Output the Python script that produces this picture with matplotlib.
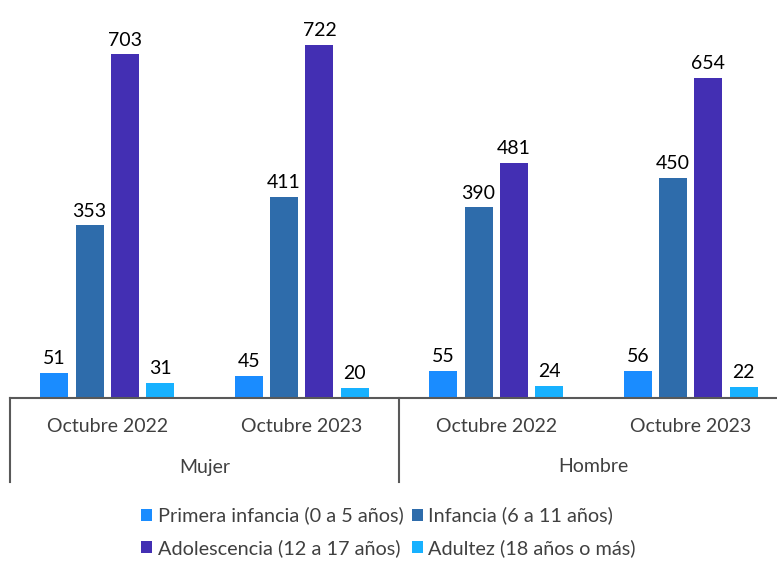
import matplotlib.pyplot as plt
import numpy as np

plt.rcParams["font.family"] = ["Lato", "DejaVu Sans"]

# data
periods = ["Octubre 2022", "Octubre 2023", "Octubre 2022", "Octubre 2023"]
sexes = ["Mujer", "Hombre"]
series_names = [
    "Primera infancia (0 a 5 años)",
    "Infancia (6 a 11 años)",
    "Adolescencia (12 a 17 años)",
    "Adultez (18 años o más)",
]
primera_infancia = [51, 45, 55, 56]
infancia = [353, 411, 390, 450]
adolescencia = [703, 722, 481, 654]
adultez = [31, 20, 24, 22]

colors = ["#1A8CFF", "#2E6CAB", "#432FB3", "#17B1FF"]

W, H = 777, 562
fig = plt.figure(figsize=(W / 100, H / 100), dpi=100)

ax_left = 10 / W
ax_bottom = 1 - 398 / H
ax_height = 391 / H
ax = fig.add_axes([ax_left, ax_bottom, 1 - ax_left, ax_height])

x = np.arange(len(periods))
spacing = 0.1815
width = 0.144
offsets = np.array([-1.5, -0.5, 0.5, 1.5]) * spacing

all_series = [primera_infancia, infancia, adolescencia, adultez]
handles = []
for vals, off, col, name in zip(all_series, offsets, colors, series_names):
    bars = ax.bar(x + off, vals, width, color=col, label=name, zorder=2)
    handles.append(bars)
    for xi, v in zip(x + off, vals):
        ax.text(xi, v + 12, str(v), ha="center", va="bottom",
                fontsize=14, color="#000000")

ax.set_ylim(0, 800)
ax.set_xlim(-0.5, 3.5 - 11 / 194.5)

for s in ["top", "right", "left"]:
    ax.spines[s].set_visible(False)
ax.spines["bottom"].set_color("#595959")
ax.spines["bottom"].set_linewidth(1.5)
ax.set_xticks([])
ax.set_yticks([])

# category labels below the axis
to_ax = lambda py: (398 - py) / 391
for xi, p in zip(x, periods):
    ax.text(xi, to_ax(427), p, ha="center", va="center", fontsize=14,
            color="#404040", transform=ax.get_xaxis_transform(), clip_on=False)
for i, s in enumerate(sexes):
    ax.text(2 * i + 0.5, to_ax(467), s, ha="center", va="center", fontsize=14,
            color="#404040", transform=ax.get_xaxis_transform(), clip_on=False)

# group separators
for xs in [-0.5, 1.5]:
    ax.plot([xs, xs], [0, to_ax(482)], color="#595959", lw=1.5,
            transform=ax.get_xaxis_transform(), clip_on=False)

# row-major legend order
order = [0, 2, 1, 3]
fig.legend(handles=[handles[i] for i in order],
           labels=[series_names[i] for i in order], ncol=2,
           loc="center", bbox_to_anchor=(0.5, 1 - 532 / H),
           frameon=False, fontsize=14.3, handlelength=0.55, handleheight=0.55,
           handletextpad=0.3, columnspacing=0.4, labelspacing=0.75,
           labelcolor="#404040")

fig.savefig("out.png", dpi=100)
